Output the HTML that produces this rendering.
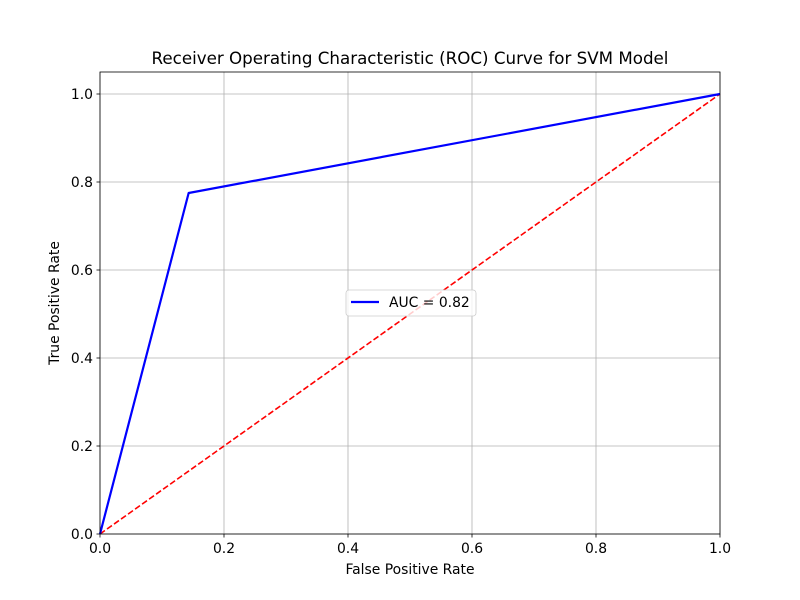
<!DOCTYPE html>
<html><head><meta charset="utf-8"><style>
body{margin:0;background:#fff}
svg{display:block;font-family:"DejaVu Sans","Liberation Sans",sans-serif}
</style></head><body>
<svg id="chart" width="800" height="600">
<rect width="800" height="600" fill="#fff"/>
<g id="grid"></g>
<g id="ticks"></g>
<g id="series"></g>
<rect x="100" y="72" width="620" height="462" fill="none" stroke="#000" stroke-width="0.8"/>
<text x="410" y="64" text-anchor="middle" font-size="16.7">Receiver Operating Characteristic (ROC) Curve for SVM Model</text>
<text x="410" y="574" text-anchor="middle" font-size="13.9">False Positive Rate</text>
<text x="59" y="303" text-anchor="middle" font-size="13.9" transform="rotate(-90 59 303)">True Positive Rate</text>
<g>
<rect x="346" y="290" width="130" height="26" rx="3" fill="#fff" fill-opacity="0.8" stroke="#ccc" stroke-width="0.8"/>
<line x1="351" y1="302" x2="379" y2="302" stroke="#0000ff" stroke-width="2.2"/>
<text x="389" y="307" font-size="13.9">AUC = 0.82</text>
</g>
</svg>
<script>
const fpr = [0, 0.143, 1];
const tpr = [0, 0.775, 1];
const diagX = [0, 1];
const diagY = [0, 1];
const xTicks = [0, 0.2, 0.4, 0.6, 0.8, 1.0];
const xTickLabels = ["0.0","0.2","0.4","0.6","0.8","1.0"];
const yTicks = [0, 0.2, 0.4, 0.6, 0.8, 1.0];
const yTickLabels = ["0.0","0.2","0.4","0.6","0.8","1.0"];
const NS="http://www.w3.org/2000/svg";
const X0=100,X1=720,Y0=534,Y1=72,XMAX=1,YMAX=1.05;
const sx=v=>X0+(X1-X0)*v/XMAX;
const sy=v=>Y0-(Y0-Y1)*v/YMAX;
function mk(tag,attrs,parent){const e=document.createElementNS(NS,tag);for(const k in attrs)e.setAttribute(k,attrs[k]);parent.appendChild(e);return e;}
const grid=document.getElementById('grid'),ticks=document.getElementById('ticks'),series=document.getElementById('series');
xTicks.forEach((v,i)=>{
  const g=mk('line',{x1:sx(v),x2:sx(v),y1:Y1,y2:Y0,stroke:'#b0b0b0','stroke-width':0.8},grid);
  
  
  const t=mk('line',{x1:sx(v),x2:sx(v),y1:Y0,y2:Y0+3.5,stroke:'#000','stroke-width':0.8},ticks);
  
  
  const l=mk('text',{x:sx(v),y:Y0+19,'text-anchor':'middle','font-size':13.9},ticks);
  l.textContent=xTickLabels[i];
  
  
});
yTicks.forEach((v,i)=>{
  const g=mk('line',{x1:X0,x2:X1,y1:sy(v),y2:sy(v),stroke:'#b0b0b0','stroke-width':0.8},grid);
  
  
  const t=mk('line',{x1:X0-3.5,x2:X0,y1:sy(v),y2:sy(v),stroke:'#000','stroke-width':0.8},ticks);
  
  
  const l=mk('text',{x:X0-7,y:sy(v)+5,'text-anchor':'end','font-size':13.9},ticks);
  l.textContent=yTickLabels[i];
  
  
});
const d=mk('polyline',{points:diagX.map((v,i)=>sx(v)+','+sy(diagY[i])).join(' '),fill:'none',stroke:'#ff0000','stroke-width':1.6,'stroke-dasharray':'6,2.6'},series);


const r=mk('polyline',{points:fpr.map((v,i)=>sx(v)+','+sy(tpr[i])).join(' '),fill:'none',stroke:'#0000ff','stroke-width':2.2,'stroke-linejoin':'round'},series);


</script>
</body></html>
